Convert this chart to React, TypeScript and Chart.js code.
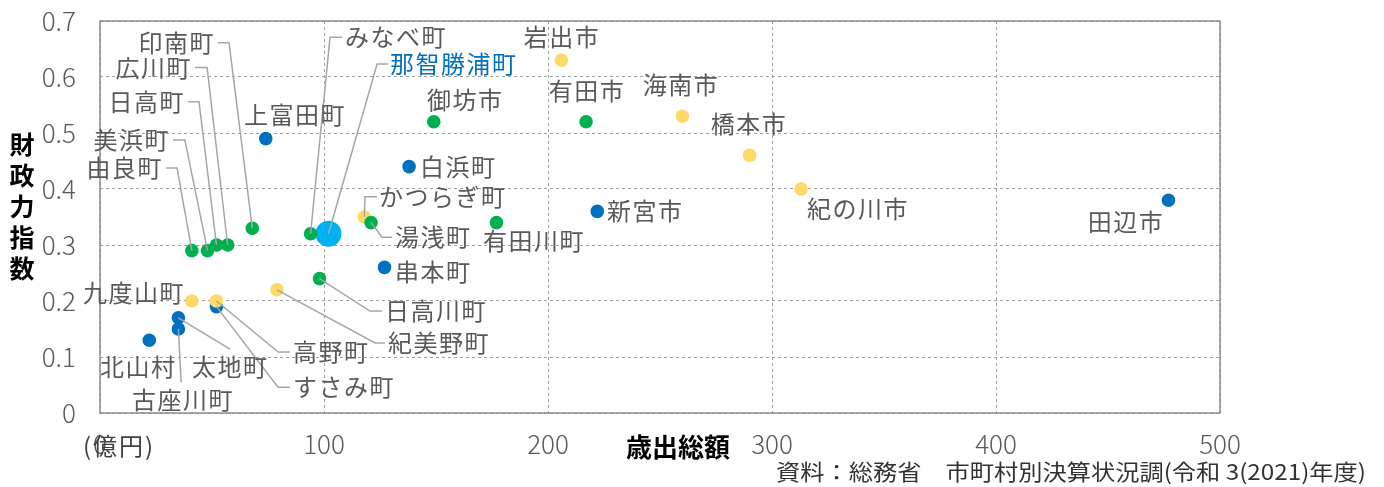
import React, { useEffect, useRef } from "react";
import { Chart, registerables } from "chart.js";
Chart.register(...registerables);

// ---- data ----
const greenNames = ["由良町", "美浜町", "日高町", "広川町", "印南町", "みなべ町", "御坊市", "有田市", "湯浅町", "有田川町", "日高川町"];
const greenX = [41, 48, 52, 57, 68, 94, 149, 217, 121, 177, 98];
const greenY = [0.29, 0.29, 0.3, 0.3, 0.33, 0.32, 0.52, 0.52, 0.34, 0.34, 0.24];

const yellowNames = ["岩出市", "海南市", "橋本市", "紀の川市", "かつらぎ町", "九度山町", "高野町", "紀美野町"];
const yellowX = [206, 260, 290, 313, 118, 41, 52, 79];
const yellowY = [0.63, 0.53, 0.46, 0.4, 0.35, 0.2, 0.2, 0.22];

const blueNames = ["上富田町", "白浜町", "新宮市", "田辺市", "串本町", "すさみ町", "太地町", "古座川町", "北山村"];
const blueX = [74, 138, 222, 477, 127, 52, 35, 35, 22];
const blueY = [0.49, 0.44, 0.36, 0.38, 0.26, 0.19, 0.17, 0.15, 0.13];

const focusNames = ["那智勝浦町"];
const focusX = [102];
const focusY = [0.32];

const xTicks = [0, 100, 200, 300, 400, 500];
const yTicks = [0, 0.1, 0.2, 0.3, 0.4, 0.5, 0.6, 0.7];

const xTitle = "歳出総額";
const yTitle = "財政力指数";
const unitLabel = "(億円)";
const sourceNote = "資料：総務省　市町村別決算状況調(令和 3(2021)年度)";

// label layout in data units: text anchor (tx,ty), alignment, optional leader elbow (ex,ey) and hook x (hx)
type Lbl = { name: string; tx: number; ty: number; align: CanvasTextAlign; ex?: number; ey?: number; hx?: number };
const labelLayout: Lbl[] = [
  { name: "由良町", tx: 28.1, ty: 0.4375, align: "right", ex: 34.4, ey: 0.4375, hx: 29.5 },
  { name: "美浜町", tx: 31.3, ty: 0.4875, align: "right", ex: 37.9, ey: 0.4875, hx: 32.6 },
  { name: "日高町", tx: 37.9, ty: 0.556, align: "right", ex: 44.2, ey: 0.556, hx: 39.3 },
  { name: "広川町", tx: 41.1, ty: 0.617, align: "right", ex: 47.8, ey: 0.617, hx: 42.4 },
  { name: "印南町", tx: 51.3, ty: 0.661, align: "right", ex: 57.6, ey: 0.661, hx: 52.7 },
  { name: "みなべ町", tx: 109.4, ty: 0.671, align: "left", ex: 102.7, ey: 0.671, hx: 108.0 },
  { name: "那智勝浦町", tx: 129.5, ty: 0.623, align: "left", ex: 123.7, ey: 0.623, hx: 128.6 },
  { name: "かつらぎ町", tx: 124.6, ty: 0.386, align: "left", ex: 118.3, ey: 0.386, hx: 123.7 },
  { name: "湯浅町", tx: 131.7, ty: 0.314, align: "left", ex: 125.9, ey: 0.314, hx: 130.4 },
  { name: "日高川町", tx: 127.2, ty: 0.182, align: "left", ex: 120.5, ey: 0.182, hx: 125.9 },
  { name: "紀美野町", tx: 128.6, ty: 0.125, align: "left", ex: 122.8, ey: 0.125, hx: 127.2 },
  { name: "高野町", tx: 86.2, ty: 0.109, align: "left", ex: 79.5, ey: 0.109, hx: 84.8 },
  { name: "すさみ町", tx: 86.2, ty: 0.046, align: "left", ex: 79.5, ey: 0.046, hx: 84.8 },
  { name: "太地町", tx: 41.1, ty: 0.082, align: "left", ex: 58.0, ey: 0.114 },
  { name: "古座川町", tx: 14.3, ty: 0.023, align: "left", ex: 36.2, ey: 0.055 },
  { name: "上富田町", tx: 87.1, ty: 0.532, align: "center" },
  { name: "御坊市", tx: 146.0, ty: 0.559, align: "left" },
  { name: "岩出市", tx: 206.3, ty: 0.671, align: "center" },
  { name: "有田市", tx: 217.4, ty: 0.575, align: "center" },
  { name: "海南市", tx: 259.4, ty: 0.586, align: "center" },
  { name: "橋本市", tx: 289.7, ty: 0.516, align: "center" },
  { name: "紀の川市", tx: 315.6, ty: 0.364, align: "left" },
  { name: "田辺市", tx: 458.0, ty: 0.341, align: "center" },
  { name: "白浜町", tx: 142.9, ty: 0.439, align: "left" },
  { name: "有田川町", tx: 193.8, ty: 0.307, align: "center" },
  { name: "新宮市", tx: 226.3, ty: 0.361, align: "left" },
  { name: "串本町", tx: 131.7, ty: 0.252, align: "left" },
  { name: "九度山町", tx: 37.9, ty: 0.214, align: "right" },
  { name: "北山村", tx: 0, ty: 0.082, align: "left" },
];

const GREEN = "#00B050";
const YELLOW = "#FFD966";
const BLUE = "#0070C0";
const LIGHTBLUE = "#00B0F0";
const TEXT_GRAY = "#595959";
const JP = "'Noto Sans CJK JP', 'Noto Sans', sans-serif";

const toPts = (xs: number[], ys: number[]) => xs.map((v, i) => ({ x: v, y: ys[i] }));

const pointIndex: Record<string, { x: number; y: number }> = {};
[
  [greenNames, greenX, greenY],
  [yellowNames, yellowX, yellowY],
  [blueNames, blueX, blueY],
  [focusNames, focusX, focusY],
].forEach(([n, xs, ys]: any) => n.forEach((name: string, i: number) => (pointIndex[name] = { x: xs[i], y: ys[i] })));

const framePlugin = {
  id: "frame",
  beforeDatasetsDraw(chart: any) {
    const { ctx, chartArea: a } = chart;
    ctx.save();
    ctx.strokeStyle = "#8C8C8C";
    ctx.lineWidth = 1.5;
    ctx.setLineDash([]);
    ctx.strokeRect(a.left, a.top, a.right - a.left, a.bottom - a.top);
    ctx.restore();
  },
};

const labelPlugin = {
  id: "labels",
  afterDatasetsDraw(chart: any) {
    const { ctx, scales } = chart;
    const xs = scales.x, ys = scales.y;
    ctx.save();
    ctx.strokeStyle = "#A6A6A6";
    ctx.lineWidth = 1.5;
    ctx.setLineDash([]);
    labelLayout.forEach((l) => {
      if (l.ex === undefined) return;
      const p = pointIndex[l.name];
      ctx.beginPath();
      ctx.moveTo(xs.getPixelForValue(p.x), ys.getPixelForValue(p.y));
      ctx.lineTo(xs.getPixelForValue(l.ex), ys.getPixelForValue(l.ey));
      if (l.hx !== undefined) ctx.lineTo(xs.getPixelForValue(l.hx), ys.getPixelForValue(l.ey));
      ctx.stroke();
    });
    ctx.font = `24px ${JP}`;
    (ctx as any).letterSpacing = "1.5px";
    ctx.textBaseline = "middle";
    labelLayout.forEach((l) => {
      ctx.fillStyle = l.name === focusNames[0] ? BLUE : TEXT_GRAY;
      ctx.textAlign = l.align;
      ctx.fillText(l.name, xs.getPixelForValue(l.tx), ys.getPixelForValue(l.ty));
    });
    ctx.restore();
  },
  afterDraw(chart: any) {
    const { ctx, chartArea: a } = chart;
    ctx.save();
    ctx.textBaseline = "middle";
    ctx.fillStyle = "#000";
    ctx.font = `bold 25px ${JP}`;
    ctx.textAlign = "center";
    Array.from(yTitle).forEach((c, i) => ctx.fillText(c, 22, 144 + i * 31));
    ctx.font = `bold 26px ${JP}`;
    ctx.fillText(xTitle, 678, 447);
    ctx.font = `24px ${JP}`;
    (ctx as any).letterSpacing = "2px";
    ctx.fillStyle = "#404040";
    ctx.fillText(unitLabel, a.left + 19, 446);
    (ctx as any).letterSpacing = "0px";
    ctx.font = `22px ${JP}`;
    ctx.fillStyle = "#333333";
    ctx.textAlign = "left";
    const w = ctx.measureText(sourceNote).width;
    ctx.translate(776, 472);
    ctx.scale(590 / w, 1);
    ctx.fillText(sourceNote, 0, 0);
    ctx.restore();
  },
};

export default function App() {
  const ref = useRef<HTMLCanvasElement>(null);
  useEffect(() => {
    document.body.style.margin = "0";
    const ds = (data: any[], color: string, r: number) => ({
      data,
      backgroundColor: color,
      borderWidth: 0,
      pointRadius: r,
      pointHoverRadius: r,
    });
    const chart = new Chart(ref.current!, {
      type: "scatter",
      data: {
        datasets: [
          ds(toPts(greenX, greenY), GREEN, 6.8),
          ds(toPts(yellowX, yellowY), YELLOW, 6.8),
          ds(toPts(blueX, blueY), BLUE, 6.8),
          ds(toPts(focusX, focusY), LIGHTBLUE, 13),
        ],
      },
      options: {
        animation: false,
        responsive: false,
        devicePixelRatio: 1,
        layout: { padding: { left: 0, right: 164, top: 21, bottom: 0 } },
        plugins: { legend: { display: false }, tooltip: { enabled: false } },
        scales: {
          x: {
            type: "linear",
            min: xTicks[0],
            max: xTicks[xTicks.length - 1],
            afterFit: (s: any) => { s.height = 74; s.paddingLeft = 0; s.paddingRight = 0; },
            afterBuildTicks: (s: any) => { s.ticks = xTicks.map((v) => ({ value: v })); },
            ticks: {
              padding: 16,
              color: TEXT_GRAY,
              font: { family: JP, size: 26, weight: "300" as any },
              callback: (v: any) => String(v),
            },
            grid: { color: "#A0A0A0", lineWidth: 1, drawTicks: false },
            border: { display: false, dash: [3, 3] },
          },
          y: {
            type: "linear",
            min: yTicks[0],
            max: yTicks[yTicks.length - 1],
            afterFit: (s: any) => { s.width = 100; s.paddingTop = 0; s.paddingBottom = 0; },
            afterBuildTicks: (s: any) => { s.ticks = yTicks.map((v) => ({ value: v })); },
            ticks: {
              padding: 24,
              color: TEXT_GRAY,
              font: { family: JP, size: 26, weight: "300" as any },
              callback: (v: any) => (Number(v) === 0 ? "0" : Number(v).toFixed(1)),
            },
            grid: { color: "#A0A0A0", lineWidth: 1, drawTicks: false },
            border: { display: false, dash: [3, 3] },
          },
        },
      },
      plugins: [framePlugin, labelPlugin],
    });
    return () => chart.destroy();
  }, []);
  return <canvas ref={ref} width={1384} height={487} style={{ display: "block" }} />;
}
